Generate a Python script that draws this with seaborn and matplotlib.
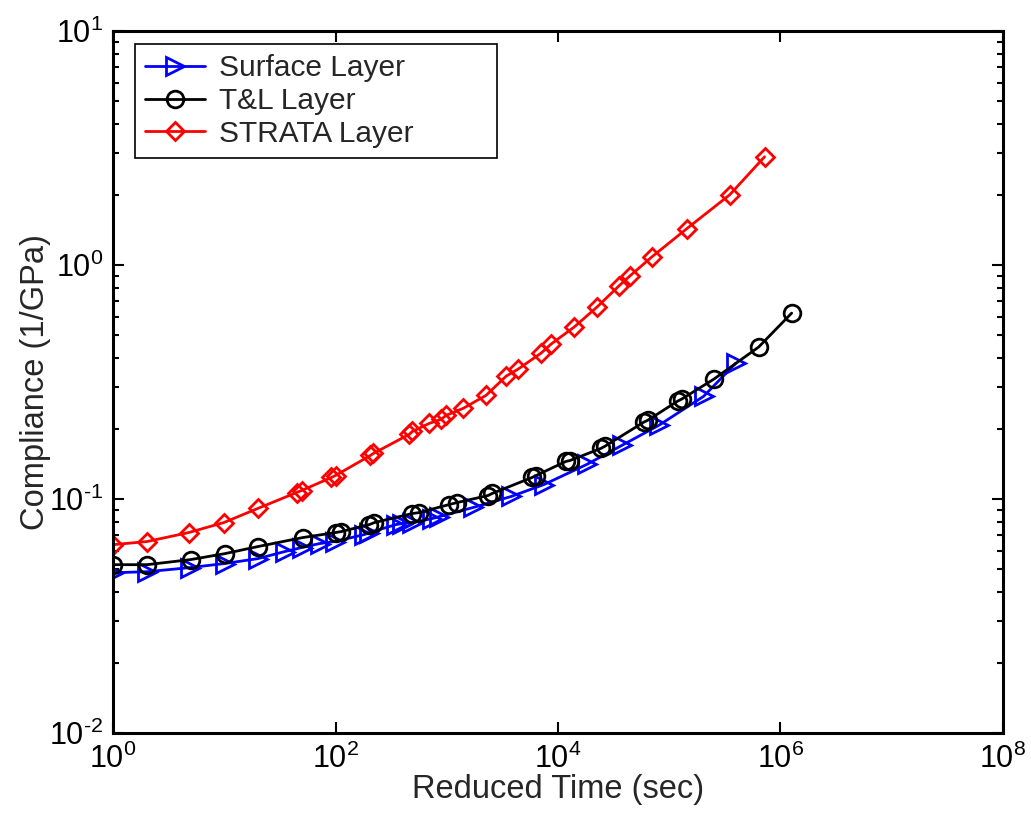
import numpy as np
import pandas as pd
import seaborn as sns
import matplotlib
matplotlib.use("Agg")
import matplotlib.pyplot as plt
from matplotlib.ticker import LogLocator, NullLocator, NullFormatter, FuncFormatter

# Data (reduced time in s, compliance in 1/GPa)
surface_t = [1, 2.02, 4.9, 10.1, 20.0, 34.9, 49.5, 71.9, 98, 182, 202, 352, 399, 491,
             741, 857, 1729, 3790, 7480, 18200, 37500, 80500, 204000, 395000]
surface_j = [0.0484, 0.0489, 0.0509, 0.0530, 0.0556, 0.0596, 0.0620, 0.0645, 0.0658,
             0.0705, 0.0719, 0.0778, 0.0785, 0.0793, 0.0825, 0.0841, 0.0920, 0.1025,
             0.1153, 0.1406, 0.1695, 0.2064, 0.2748, 0.380]

tl_t = [1, 2.02, 5.0, 10.1, 20, 50.6, 100, 113, 202, 224, 491, 566, 1052, 1242, 2355,
        2560, 5850, 6350, 11800, 12800, 24300, 26400, 59000, 64100, 119000, 129000,
        251000, 636000, 1.26e6]
tl_j = [0.0524, 0.0524, 0.0551, 0.0584, 0.0626, 0.0684, 0.0719, 0.0726, 0.0778, 0.0793,
        0.0867, 0.0875, 0.0947, 0.0966, 0.1035, 0.1056, 0.1236, 0.126, 0.1448, 0.146,
        0.1645, 0.168, 0.213, 0.217, 0.262, 0.267, 0.325, 0.446, 0.623]

strata_t = [1, 2.02, 4.8, 9.9, 20, 44.7, 49.5, 92, 100, 206, 219, 461, 491, 697, 893,
            990, 1406, 2260, 3420, 4380, 7040, 8650, 13900, 22400, 35200, 44200, 69600,
            143000, 349000, 719000]
strata_j = [0.0638, 0.0658, 0.0719, 0.0793, 0.0911, 0.1066, 0.1087, 0.1236, 0.126,
            0.1535, 0.1566, 0.189, 0.1945, 0.2105, 0.219, 0.228, 0.244, 0.2775, 0.335,
            0.359, 0.420, 0.459, 0.542, 0.661, 0.813, 0.897, 1.082, 1.427, 1.994, 2.90]

sns.set_style("ticks")
plt.rcParams["font.family"] = ["Liberation Sans", "DejaVu Sans"]
plt.rcParams["mathtext.fontset"] = "custom"
plt.rcParams["mathtext.rm"] = "Liberation Sans"
plt.rcParams["mathtext.it"] = "Liberation Sans"

fig = plt.figure(figsize=(10.31, 8.17), dpi=100)
ax = fig.add_axes([113 / 1031, (817 - 733) / 817, 890 / 1031, 702 / 817])

series = [
    (surface_t, surface_j, "Surface Layer", "blue", ">", 12.5),
    (tl_t, tl_j, "T&L Layer", "black", "o", 12),
    (strata_t, strata_j, "STRATA Layer", "red", "D", 9),
]
for t, j, name, col, mk, ms in series:
    df = pd.DataFrame({"t": t, "j": j})
    sns.lineplot(data=df, x="t", y="j", ax=ax, color=col, linewidth=2.0,
                 marker=mk, markersize=ms, markerfacecolor="none",
                 markeredgecolor=col, markeredgewidth=2.0,
                 estimator=None, sort=False, label=name)

ax.set_xscale("log")
ax.set_yscale("log")
ax.set_xlim(1, 1e8)
ax.set_ylim(1e-2, 1e1)


def pow10(v, pos):
    e = int(round(np.log10(v)))
    return r"$\mathdefault{10^{\text{%d}}}$" % e


ax.xaxis.set_major_locator(LogLocator(base=100))
ax.xaxis.set_minor_locator(NullLocator())
ax.yaxis.set_major_locator(LogLocator(base=10))
ax.yaxis.set_minor_locator(LogLocator(base=10, subs=np.arange(2, 10)))
ax.yaxis.set_minor_formatter(NullFormatter())
ax.xaxis.set_major_formatter(FuncFormatter(pow10))
ax.yaxis.set_major_formatter(FuncFormatter(pow10))

ax.tick_params(which="both", direction="in", top=True, right=True, width=1.5,
               labelsize=22, colors="black")
ax.tick_params(which="major", length=8)
ax.tick_params(axis="x", which="major", pad=8)
ax.tick_params(axis="y", which="major", pad=7)
ax.tick_params(which="minor", length=4.5)
for s in ax.spines.values():
    s.set_linewidth(2.2)
    s.set_color("black")

ax.set_xlabel("Reduced Time (sec)", fontsize=23.5)
ax.set_ylabel("Compliance (1/GPa)", fontsize=23.5)
ax.xaxis.set_label_coords(0.5, -0.059)
ax.yaxis.set_label_coords(-0.07, 0.5)

leg = ax.legend(loc="upper left", bbox_to_anchor=(0.0247, 0.5, 0.4067, 0.481),
                mode="expand", borderaxespad=0,
                fontsize=21.5, frameon=True, fancybox=False, edgecolor="black",
                framealpha=1, handlelength=2.0, handletextpad=0.5, labelspacing=0.16,
                borderpad=0.33)
leg.get_frame().set_linewidth(1.2)

fig.savefig("out.png", dpi=100)
